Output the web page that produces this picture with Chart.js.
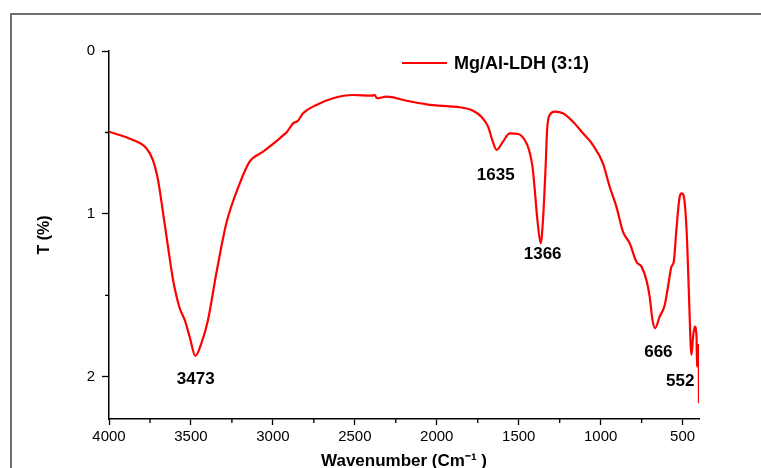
<!DOCTYPE html>
<html>
<head>
<meta charset="utf-8">
<script src="https://cdn.jsdelivr.net/npm/chart.js@4/dist/chart.umd.min.js"></script>
<style>
  html, body { margin: 0; padding: 0; background: #fff; }
  #caja { position: relative; width: 761px; height: 468px; overflow: hidden; }
  #marco { position: absolute; left: 10px; top: 13px; width: 900px; height: 600px;
           border-left: 2px solid #6e6e6e; border-top: 2px solid #6e6e6e; }
  canvas { position: absolute; left: 0; top: 0; }
</style>
</head>
<body>
<div id="caja">
  <div id="marco"></div>
  <canvas id="grafica" width="761" height="468"></canvas>
</div>
<script>
// Espectro FTIR
const numeroOnda = [4000, 3854, 3772, 3732, 3701, 3670, 3640, 3609, 3569, 3538, 3508, 3473,
  3436, 3396, 3345, 3284, 3202, 3142, 3060, 2958, 2928, 2918, 2877, 2847, 2816, 2734, 2633,
  2511, 2399, 2379, 2365, 2307, 2185, 2063, 1921, 1860, 1779, 1728, 1687, 1660, 1635, 1596,
  1555, 1504, 1463, 1437, 1416, 1402, 1386, 1366, 1352, 1335, 1327, 1311, 1280, 1230, 1169,
  1108, 1047, 986, 945, 904, 864, 823, 782, 751, 721, 701, 684, 668, 640, 609, 589, 568, 554,
  538, 518, 505, 487, 473, 461, 446, 436, 426, 415, 412, 408, 402, 400];
const transmitancia = [0.495, 0.546, 0.597, 0.669, 0.791, 0.994, 1.201, 1.405, 1.577, 1.650,
  1.753, 1.871, 1.793, 1.650, 1.364, 1.057, 0.812, 0.679, 0.618, 0.536, 0.509, 0.501, 0.444,
  0.428, 0.382, 0.331, 0.290, 0.270, 0.274, 0.270, 0.290, 0.280, 0.305, 0.327, 0.340, 0.345,
  0.366, 0.403, 0.464, 0.550, 0.607, 0.556, 0.505, 0.509, 0.546, 0.607, 0.710, 0.853, 1.037,
  1.180, 1.037, 0.689, 0.485, 0.393, 0.372, 0.382, 0.434, 0.505, 0.577, 0.689, 0.833, 0.955,
  1.109, 1.180, 1.293, 1.323, 1.405, 1.507, 1.650, 1.701, 1.630, 1.558, 1.446, 1.323, 1.293,
  1.098, 0.894, 0.873, 0.934, 1.160, 1.507, 1.865, 1.753, 1.691, 1.753, 1.937, 1.804, 1.804, 2.161];

const ticksX = [4000, 3500, 3000, 2500, 2000, 1500, 1000, 500];
const ticksXMenores = [3750, 3250, 2750, 2250, 1750, 1250, 750];
const ticksY = [0, 1, 2];
const ticksYMenores = [0.5, 1.5];

const serie = 'Mg/Al-LDH (3:1)';
const picos = ['3473', '1635', '1366', '666', '552'];
// donde va el texto de cada pico (en unidades de datos)
const posPicos = [[3471, 2.012], [1640, 0.765], [1354, 1.245], [648, 1.848], [515, 2.025]];

const fuente = "'Liberation Sans', Arial, sans-serif";

const extras = {
  id: 'extras',
  afterDraw(chart) {
    const ctx = chart.ctx;
    const sx = chart.scales.x, sy = chart.scales.y;
    ctx.save();
    // ticks menores
    ctx.strokeStyle = '#000';
    ctx.lineWidth = 1.3;
    ctx.beginPath();
    ticksXMenores.forEach(v => {
      const px = sx.getPixelForValue(v);
      ctx.moveTo(px, sy.bottom); ctx.lineTo(px, sy.bottom + 4);
    });
    ticksYMenores.forEach(v => {
      const py = sy.getPixelForValue(v);
      ctx.moveTo(sx.left, py); ctx.lineTo(sx.left - 4, py);
    });
    ctx.stroke();

    // leyenda
    ctx.strokeStyle = '#ff0000';
    ctx.lineWidth = 2;
    ctx.beginPath();
    ctx.moveTo(402, 63); ctx.lineTo(447, 63);
    ctx.stroke();
    ctx.fillStyle = '#000';
    ctx.font = 'bold 18px ' + fuente;
    ctx.textAlign = 'left';
    ctx.textBaseline = 'middle';
    ctx.fillText(serie, 454, 64);

    // etiquetas de picos
    ctx.font = 'bold 17px ' + fuente;
    ctx.textAlign = 'center';
    picos.forEach((t, i) => {
      ctx.fillText(t, sx.getPixelForValue(posPicos[i][0]), sy.getPixelForValue(posPicos[i][1]));
    });
    ctx.restore();
  }
};

new Chart(document.getElementById('grafica'), {
  type: 'line',
  data: {
    datasets: [{
      label: serie,
      data: numeroOnda.map((w, i) => ({ x: w, y: transmitancia[i] })),
      borderColor: '#ff0000',
      borderWidth: 2.2,
      pointRadius: 0,
      fill: false,
      cubicInterpolationMode: 'monotone'
    }]
  },
  options: {
    responsive: false,
    animation: false,
    layout: { padding: { top: 51, right: 62, left: 0, bottom: 0 } },
    plugins: { legend: { display: false }, tooltip: { enabled: false } },
    scales: {
      x: {
        type: 'linear',
        reverse: true,
        min: 400,
        max: 4000,
        afterBuildTicks: s => { s.ticks = ticksX.map(v => ({ value: v })); },
        afterFit: s => { s.height = 49; },
        grid: { drawOnChartArea: false, drawTicks: true, tickLength: 6, color: '#000', tickWidth: 1.3 },
        border: { display: true, color: '#000', width: 1.5 },
        ticks: { color: '#000', padding: 3, maxRotation: 0, callback: v => String(v),
                 font: { family: fuente, size: 15 } },
        title: {
          display: true,
          text: 'Wavenumber (Cm⁻¹ )',
          color: '#000',
          padding: { top: 0, bottom: -2 },
          font: { family: fuente, size: 17, weight: 'bold', lineHeight: 1 }
        }
      },
      y: {
        type: 'linear',
        reverse: true,
        min: 0,
        max: 2.258,
        afterBuildTicks: s => { s.ticks = ticksY.map(v => ({ value: v })); },
        afterFit: s => { s.width = 109; },
        grid: { drawOnChartArea: false, drawTicks: true, tickLength: 7, color: '#000', tickWidth: 1.3 },
        border: { display: true, color: '#000', width: 1.5 },
        ticks: { color: '#000', padding: 7, callback: v => String(v), font: { family: fuente, size: 15 } },
        title: {
          display: true,
          text: 'T (%)',
          color: '#000',
          padding: { top: 37, bottom: 0 },
          font: { family: fuente, size: 16, weight: 'bold', lineHeight: 1 }
        }
      }
    }
  },
  plugins: [extras]
});
</script>
</body>
</html>
